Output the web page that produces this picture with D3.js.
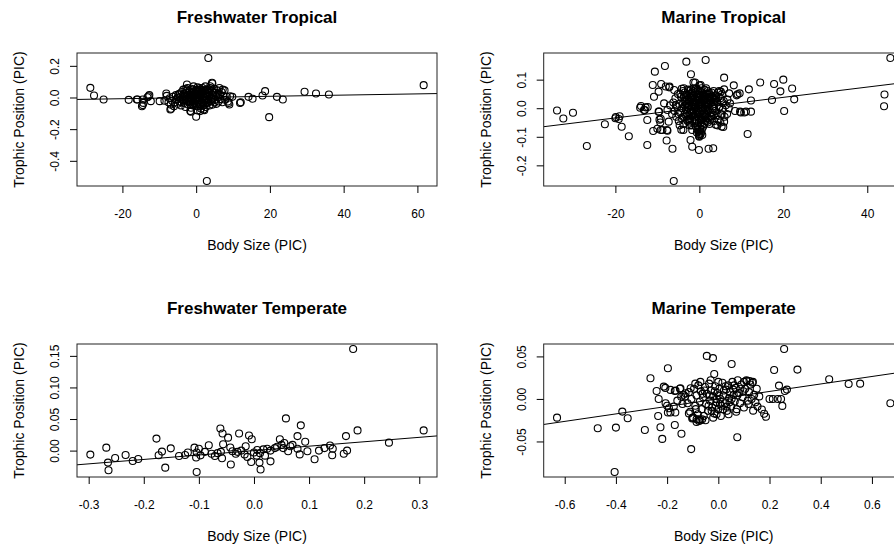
<!DOCTYPE html>
<html>
<head>
<meta charset="utf-8">
<script src="https://cdn.jsdelivr.net/npm/d3@7"></script>
<style>
body { margin: 0; background: #fff; }
</style>
</head>
<body>
<script>
var width = 894, height = 550;

var titles = ["Freshwater Tropical", "Marine Tropical", "Freshwater Temperate", "Marine Temperate"];
var xLabel = "Body Size (PIC)";
var yLabel = "Trophic Position (PIC)";

var xTickValues = [[-20, 0, 20, 40, 60], [-20, 0, 20, 40], [-0.3, -0.2, -0.1, 0, 0.1, 0.2, 0.3], [-0.6, -0.4, -0.2, 0, 0.2, 0.4, 0.6]];
var xTickLabels = [["-20", "0", "20", "40", "60"], ["-20", "0", "20", "40"], ["-0.3", "-0.2", "-0.1", "0.0", "0.1", "0.2", "0.3"], ["-0.6", "-0.4", "-0.2", "0.0", "0.2", "0.4", "0.6"]];
var yTickValues = [[0.2, 0, -0.2, -0.4], [0.1, 0, -0.1, -0.2], [0, 0.05, 0.10, 0.15], [-0.05, 0, 0.05]];
var yTickLabels = [["0.2", "0.0", "-0.2", "-0.4"], ["0.1", "0.0", "-0.1", "-0.2"], ["0.00", "0.05", "0.10", "0.15"], ["-0.05", "0.00", "0.05"]];

// fitted lines (slope, intercept) per panel
var slopes = [0.00038, 0.0018, 0.07, 0.044];
var intercepts = [0, 0.002, 0, 0];

var freshTropical = [
[-28.7,0.061],[-27.7,0.013],[-25.1,-0.013],[-18.3,-0.015],[-16.1,-0.013],[-15.9,-0.013],[-14.7,-0.055],[-14.5,-0.048],[-14.3,-0.034],
[-14.5,-0.013],[-13.2,0.002],[-12.9,0.008],[-12.7,0.015],[-12.3,-0.023],[-9.9,-0.023],[-8.1,0.025],[-6.8,-0.071],[-7.0,-0.076],
[-2.5,0.082],[-1.4,-0.09],[-1.6,-0.086],[0.0,-0.122],[0.4,-0.082],[1.1,-0.086],[2.0,-0.076],[2.2,-0.08],[3.3,0.25],[2.9,-0.528],
[4.4,0.088],[4.3,0.093],[3.8,0.071],[6.3,0.06],[7.2,0.05],[9.0,-0.044],[9.2,0.008],[8.8,-0.034],[9.8,0.004],[11.9,-0.034],[12.1,-0.03],
[14.2,0.004],[15.3,-0.008],[18.0,0.013],[18.7,0.04],[19.8,-0.124],[21.9,0.004],[23.5,-0.013],[29.4,0.036],[32.5,0.025],[36.0,0.019],[61.7,0.078],
[-8.6,-0.02],[-8.0,0.01],[-7.5,-0.03],[-7.2,-0.005],[-6.9,-0.045],[-6.5,-0.02],[-6.3,0.005],[-6.0,-0.055],[-5.8,-0.03],[-5.5,0.015],
[-5.3,-0.01],[-5.0,-0.04],[-4.8,0.02],[-4.6,-0.025],[-4.3,0.005],[-4.1,-0.05],[-3.9,0.035],[-3.7,-0.015],[-3.5,0.05],[-3.3,-0.035],
[-3.1,0.01],[-2.9,-0.06],[-2.7,0.03],[-2.5,-0.02],[-2.3,0.06],[-2.2,-0.045],[-2.0,0.0],[-1.9,0.04],[-1.7,-0.03],[-1.6,0.02],
[-1.4,-0.065],[-1.3,0.055],[-1.1,-0.01],[-1.0,0.03],[-0.8,-0.05],[-0.7,0.07],[-0.5,0.01],[-0.4,-0.035],[-0.2,0.045],[-0.1,-0.02],
[0.1,0.02],[0.2,-0.055],[0.4,0.065],[0.5,0.0],[0.7,-0.04],[0.8,0.035],[1.0,-0.015],[1.1,0.05],[1.3,-0.07],[1.4,0.015],
[1.6,-0.03],[1.7,0.06],[1.9,0.005],[2.0,-0.05],[2.2,0.04],[2.3,-0.02],[2.5,0.07],[2.6,-0.06],[2.8,0.02],[3.0,-0.035],
[3.1,0.045],[3.3,-0.01],[3.5,0.03],[3.6,-0.05],[3.8,0.06],[4.0,0.0],[4.1,-0.025],[4.3,0.04],[4.5,-0.045],[4.7,0.015],
[4.9,0.055],[5.1,-0.015],[5.3,0.03],[5.5,-0.04],[5.7,0.045],[5.9,0.0],[6.1,-0.025],[6.4,0.02],[6.6,-0.01],[6.9,0.035],
[7.1,-0.03],[7.4,0.01],[7.7,0.045],[7.9,-0.015],[8.3,0.005],[8.6,-0.025],
[-1.5,0.0],[-0.9,0.015],[-0.3,-0.005],[0.3,0.025],[0.9,0.0],[1.5,0.035],[-2.4,0.015],[2.4,-0.005],[-0.6,-0.025],[0.6,0.045],
[-1.2,0.035],[1.2,-0.04],[0.0,0.0],[-3.4,0.02],[3.4,0.01],[-2.8,-0.01],[2.9,-0.015],
[-2.6,0.045],[-2.1,-0.025],[-1.8,0.015],[-1.5,-0.045],[-1.0,0.05],[-0.7,-0.015],[-0.4,0.025],[-0.1,-0.05],[0.2,0.05],[0.5,-0.025],
[0.8,0.015],[1.1,-0.055],[1.4,0.045],[1.7,-0.01],[2.0,0.025],[2.3,-0.045],[2.6,0.05],[2.9,0.0],[3.2,-0.03],[3.5,0.045],
[-3.2,-0.02],[-2.9,0.055],[-3.6,0.0],[-4.0,-0.03],[-4.4,0.025],[4.2,-0.01],[4.6,0.03],[5.0,-0.03],[5.4,0.01],[-0.2,0.015],
[0.3,-0.01],[-1.3,-0.02],[1.3,0.03],[-0.9,-0.04],[0.9,0.06],[-2.3,-0.005],[2.1,-0.03],[0.0,0.035],[-5.0,0.0],[6.0,0.015]
];

var marineTropical = [
[-33.9,-0.008],[-32.4,-0.036],[-30.1,-0.016],[-26.8,-0.132],[-22.5,-0.056],[-20.0,-0.035],[-19.9,-0.031],[-19.2,-0.038],[-19.0,-0.028],
[-18.5,-0.065],[-16.8,-0.098],[-14.1,0.002],[-13.9,0.008],[-13.2,-0.006],[-13.0,-0.006],[-12.8,0.003],[-12.4,-0.041],[-12.4,-0.129],
[-12.3,0.004],[-11.1,0.081],[-10.6,0.128],[-11.0,-0.08],[-10.8,0.04],[-10.0,-0.072],[-9.7,0.058],[-9.7,-0.012],[-9.6,-0.012],
[-9.2,-0.037],[-9.2,-0.076],[-9.1,0.085],[-9.5,-0.04],[-9.3,-0.05],[-8.8,-0.076],[-8.4,0.017],[-8.2,0.148],[-8.0,0.076],
[-7.8,-0.113],[-7.7,-0.076],[-7.6,-0.079],[-7.6,-0.006],[-7.3,-0.047],[-7.2,0.073],[-7.1,0.076],[-6.4,-0.142],[-6.1,-0.255],
[-6.0,0.064],[-4.3,-0.075],[-4.2,0.068],[-3.8,-0.076],[-3.7,0.07],[-3.1,0.163],[-2.0,0.119],[-2.1,-0.111],[-1.7,-0.135],
[-1.7,-0.076],[-1.4,0.09],[-1.0,0.09],[-0.4,-0.075],[-0.1,-0.146],[-0.1,-0.097],[0.0,0.08],[0.3,0.081],[0.1,-0.095],[0.3,-0.09],
[1.5,0.169],[0.7,-0.094],[2.2,-0.142],[3.3,-0.14],[3.9,-0.058],[4.3,-0.06],[4.7,0.06],[4.7,0.003],[5.1,0.058],[5.3,-0.023],
[5.3,-0.064],[5.7,-0.066],[5.9,-0.047],[5.9,0.107],[5.9,0.066],[6.7,0.03],[7.1,0.052],[7.3,0.017],[8.2,0.08],[8.9,0.045],
[9.1,0.049],[9.6,0.052],[8.5,-0.01],[9.7,-0.012],[9.9,-0.015],[10.7,-0.015],[11.1,-0.012],[11.5,-0.09],[11.8,0.066],
[12.3,0.027],[12.3,-0.012],[14.5,0.09],[17.3,0.029],[17.8,0.085],[19.3,0.059],[20.0,0.1],[20.2,-0.01],[22.1,0.069],
[22.6,0.031],[44.0,0.007],[44.1,0.048],[45.5,0.176],
[-6.2,0.02],[-5.9,-0.01],[-5.7,0.035],[-5.5,-0.03],[-5.3,0.005],[-5.1,0.05],[-4.9,-0.045],[-4.8,0.015],[-4.6,-0.015],[-4.4,0.04],
[-4.2,-0.035],[-4.1,0.0],[-3.9,0.06],[-3.8,-0.055],[-3.6,0.025],[-3.5,-0.02],[-3.3,0.045],[-3.2,-0.005],[-3.0,-0.04],[-2.9,0.03],
[-2.7,0.065],[-2.6,-0.025],[-2.4,0.01],[-2.3,-0.06],[-2.1,0.05],[-2.0,-0.01],[-1.8,0.035],[-1.7,-0.045],[-1.5,0.015],[-1.4,0.07],
[-1.2,-0.03],[-1.1,0.0],[-0.9,0.055],[-0.8,-0.065],[-0.6,0.025],[-0.5,-0.015],[-0.3,0.04],[-0.2,-0.05],[0.0,0.01],[0.1,-0.08],
[0.2,0.06],[0.3,-0.03],[0.5,0.03],[0.6,-0.06],[0.8,0.0],[0.9,0.045],[1.1,-0.02],[1.2,0.065],[1.4,-0.045],[1.5,0.02],
[1.7,-0.01],[1.8,0.05],[2.0,-0.035],[2.1,0.01],[2.3,0.04],[2.4,-0.055],[2.6,0.025],[2.7,-0.015],[2.9,0.055],[3.0,-0.03],
[3.2,0.005],[3.3,0.035],[3.5,-0.045],[3.6,0.015],[3.8,-0.01],[3.9,0.045],[4.1,-0.025],[4.3,0.02],[4.4,0.055],[4.6,-0.04],
[4.8,0.005],[5.0,0.035],[5.2,-0.02],[5.4,0.05],[5.6,-0.005],[5.8,0.025],[6.0,-0.03],[6.3,0.01],
[0.2,-0.07],[0.4,-0.085],[-0.1,-0.09],[0.6,-0.075],[-0.4,-0.06],[0.9,-0.065],[0.0,-0.1],[-0.6,-0.085],
[-2.5,0.03],[-1.9,0.005],[-1.3,0.045],[-0.7,-0.005],[-0.1,0.03],[0.4,0.0],[1.0,0.025],[1.6,-0.025],[2.2,0.0],[2.8,0.02],
[-2.2,-0.035],[-1.0,-0.04],[0.7,-0.04],[1.9,0.03],[3.1,-0.015],[-3.4,0.01],[-0.4,0.065],[0.5,0.07],[1.3,0.0],[-1.6,-0.015],
[2.5,0.035],[-2.8,-0.045],[3.4,0.06],[-3.7,0.04],[0.0,-0.035],[0.3,0.045],[-0.2,0.0],[1.1,0.04],[-1.1,0.02],[2.0,0.06],[-2.0,0.065],
[-3.0,0.015],[-2.6,0.045],[-2.2,-0.015],[-1.8,0.055],[-1.4,-0.025],[-1.0,0.035],[-0.6,-0.045],[-0.2,0.02],[0.2,-0.015],[0.6,0.055],
[1.0,-0.035],[1.4,0.035],[1.8,-0.045],[2.2,0.05],[2.6,-0.04],[3.0,0.04],[3.4,-0.025],[3.8,0.03],[-3.8,-0.03],[-4.5,0.05],
[-0.9,-0.02],[-0.5,0.05],[0.1,0.04],[0.6,0.015],[1.2,-0.055],[-1.5,0.06],[-2.4,-0.05],[1.6,0.07],[2.4,0.015],[-0.3,-0.03],
[0.9,-0.005],[-1.2,0.01],[-2.9,-0.02],[3.5,0.0],[4.0,0.035],[-4.0,0.015],[0.4,-0.05],[-0.8,0.07],[1.9,-0.02],[-1.9,-0.06],
[4.6,0.04],[5.0,-0.05],[-5.0,-0.02],[-5.6,0.01],[-6.5,-0.02],[6.6,-0.02],[7.0,0.0],[-7.0,0.01],[5.5,0.02],[-4.7,-0.06],
[-3.3,0.028],[-2.7,0.002],[-2.3,0.022],[-1.7,0.042],[-1.3,-0.008],[-0.8,0.018],[-0.4,-0.018],[0.0,0.048],[0.4,0.022],[0.8,-0.022],
[1.2,0.012],[1.6,0.048],[2.0,-0.008],[2.4,0.028],[2.8,-0.028],[3.2,0.022],[-3.1,-0.028],[-2.5,-0.038],[-1.6,0.028],[-0.9,0.004],
[-0.1,-0.012],[0.7,0.035],[1.5,0.008],[2.3,0.055],[3.6,0.03],[-3.5,0.055],[-2.0,0.038],[-0.6,0.04],[0.3,0.012],[1.0,0.05],
[1.8,0.018],[2.7,0.04],[-1.1,-0.05],[0.5,-0.04],[-2.6,0.06],[1.3,-0.03],[-0.3,0.06],[2.0,-0.05],[-1.4,0.022],[0.9,0.03]
];

var freshTemperate = [
[-0.297,-0.0063],[-0.268,0.0047],[-0.265,-0.019],[-0.264,-0.031],[-0.252,-0.0116],[-0.233,-0.0069],[-0.22,-0.0164],[-0.21,-0.0132],
[-0.177,0.019],[-0.173,-0.0074],[-0.167,-0.0016],[-0.161,-0.027],[-0.151,0.0036],[-0.136,-0.0085],[-0.125,-0.007],[-0.12,-0.003],
[-0.108,0.0047],[-0.105,-0.011],[-0.104,-0.034],[-0.104,-0.003],[-0.1,0.003],[-0.097,-0.0075],[-0.089,-0.002],[-0.082,0.0084],
[-0.077,-0.005],[-0.071,-0.0085],[-0.061,0.035],[-0.06,-0.002],[-0.057,0.027],[-0.056,0.01],[-0.058,-0.012],[-0.047,0.0205],
[-0.042,-0.022],[-0.043,0.005],[-0.039,-0.001],[-0.033,-0.005],[-0.027,0.027],[-0.023,0.0],[-0.017,-0.006],[-0.015,0.007],
[-0.009,0.024],[-0.004,0.018],[-0.005,-0.018],[0.0,-0.003],[0.006,0.001],[0.011,-0.004],[0.01,-0.019],[0.012,-0.03],
[0.017,0.002],[0.02,-0.008],[0.03,-0.017],[0.03,0.0],[0.038,0.004],[0.047,0.018],[0.05,0.009],[0.053,0.004],[0.058,0.051],
[0.062,-0.001],[0.07,0.009],[0.079,0.023],[0.079,0.003],[0.083,-0.006],[0.085,0.04],[0.093,0.014],[0.097,-0.001],[0.11,-0.0137],
[0.118,0.0],[0.128,0.004],[0.138,0.008],[0.142,-0.0074],[0.143,0.003],[0.163,-0.005],[0.167,0.023],[0.169,0.0],[0.18,0.161],
[0.188,0.032],[0.245,0.0126],[0.308,0.032],
[-0.03,-0.002],[0.024,0.003],[0.042,0.006],[0.066,0.007],[0.005,-0.008],[-0.012,-0.01],[0.055,0.012],[-0.066,-0.004]
];

var marineTemperate = [
[-0.63,-0.022],[-0.471,-0.0345],[-0.4,-0.0337],[-0.405,-0.086],[-0.375,-0.0149],[-0.354,-0.0227],[-0.287,-0.0365],[-0.265,0.0243],
[-0.241,0.0094],[-0.235,-0.02],[-0.233,0.0],[-0.226,-0.0333],[-0.219,-0.047],[-0.213,0.0145],[-0.207,0.013],[-0.197,0.036],
[-0.2,-0.008],[-0.197,-0.016],[-0.17,-0.0306],[-0.17,0.0094],[-0.168,-0.016],[-0.16,-0.002],[-0.15,0.012],[-0.144,-0.041],
[-0.136,0.005],[-0.106,-0.059],[-0.115,-0.017],[-0.102,-0.023],[-0.063,-0.024],[-0.075,-0.024],[-0.045,0.0506],[-0.021,0.048],
[-0.016,0.0294],[-0.007,-0.018],[0.052,0.041],[0.074,-0.045],[0.136,-0.0138],[0.153,-0.009],[0.17,-0.0125],[0.179,-0.0175],
[0.186,-0.021],[0.218,0.034],[0.2,0.0],[0.213,0.0],[0.232,0.0],[0.245,0.0],[0.237,0.0157],[0.25,-0.0082],[0.257,0.0588],
[0.26,0.0094],[0.268,0.011],[0.309,0.0345],[0.433,0.0232],[0.509,0.0176],[0.554,0.018],[0.672,-0.005],
[-0.187,0.0106],[-0.167,0.0098],[-0.148,0.0126],[-0.145,0.0027],[-0.128,0.0067],[-0.108,0.0126],[-0.206,-0.005],[-0.193,-0.011],
[-0.174,-0.009],[-0.187,-0.016],[-0.098,-0.022],[-0.085,-0.027],[-0.07,-0.025],[0.1,0.02],[0.11,0.022],[0.122,0.021],[0.133,0.019],
[-0.12,-0.005],[-0.115,0.008],[-0.11,-0.015],[-0.105,0.0],[-0.1,-0.022],[-0.095,0.012],[-0.09,-0.008],[-0.085,0.004],[-0.08,-0.018],
[-0.078,0.016],[-0.072,-0.003],[-0.068,0.009],[-0.065,-0.012],[-0.06,0.002],[-0.057,-0.02],[-0.052,0.014],[-0.048,-0.006],
[-0.045,0.006],[-0.04,-0.014],[-0.036,0.018],[-0.032,-0.002],[-0.028,0.01],[-0.024,-0.01],[-0.02,0.003],[-0.016,-0.017],
[-0.012,0.015],[-0.008,-0.004],[-0.004,0.007],[0.0,-0.012],[0.004,0.012],[0.008,0.0],[0.012,-0.008],[0.016,0.019],[0.02,0.004],
[0.025,-0.005],[0.03,0.011],[0.034,-0.014],[0.038,0.016],[0.042,0.001],[0.046,0.008],[0.05,-0.009],[0.055,0.02],[0.06,0.005],
[0.064,-0.003],[0.068,0.013],[0.072,-0.012],[0.076,0.022],[0.08,0.007],[0.085,-0.005],[0.09,0.017],[0.095,0.002],[0.1,-0.01],
[0.105,0.012],[0.11,0.021],[0.115,-0.002],[0.12,0.008],[0.125,0.017],[0.13,0.0],[0.135,0.02],[0.14,0.005],[0.145,-0.004],
[0.15,0.012],[0.16,0.003],[-0.13,0.003],[-0.14,-0.006],[-0.09,0.018],[-0.07,0.02],[-0.03,0.022],[0.0,0.02],[-0.05,-0.025],
[-0.02,-0.022],[0.01,-0.02],[0.04,-0.018],[0.07,-0.015],[-0.075,-0.026],[-0.085,-0.024],
[-0.062,0.006],[-0.038,-0.008],[-0.014,0.009],[0.006,-0.006],[0.028,0.015],[0.052,0.0],[0.074,0.004],[0.098,0.009],[-0.088,-0.012],
[-0.034,0.004],[0.018,-0.012],[0.062,0.016],[0.118,-0.006],[-0.006,0.0],[0.044,-0.004],
[-0.054,0.01],[-0.026,-0.014],[0.002,0.004],[0.032,-0.009],[0.058,0.011],[0.086,0.012],[-0.01,-0.008],[0.022,0.01]
];

var panelData = [freshTropical, marineTropical, freshTemperate, marineTemperate];

// layout
var plotLefts = [77, 543.7], plotTops = [53, 344];
var plotW = 360, plotH = 133;
var font = "'Liberation Sans', Arial, Helvetica, sans-serif";

var svg = d3.select("body").append("svg")
	.attr("width", width)
	.attr("height", height);

// R style range: data extent padded by 4% each side
function padExtent(vals){
	var e = d3.extent(vals);
	var p = (e[1] - e[0]) * 0.04;
	return [e[0] - p, e[1] + p];
}

function drawPanel(i){
	var left = plotLefts[i % 2], top = plotTops[Math.floor(i / 2)];
	var pts = panelData[i];

	var x = d3.scaleLinear()
		.domain(padExtent(pts.map(function(d){ return d[0]; })))
		.range([left, left + plotW]);
	var y = d3.scaleLinear()
		.domain(padExtent(pts.map(function(d){ return d[1]; })))
		.range([top + plotH, top]);

	var g = svg.append("g");

	g.append("clipPath")
		.attr("id", "clip" + i)
		.append("rect")
		.attr("x", left).attr("y", top)
		.attr("width", plotW).attr("height", plotH);

	// fitted line
	var xd = x.domain();
	g.append("line")
		.attr("clip-path", "url(#clip" + i + ")")
		.attr("x1", x(xd[0])).attr("y1", y(intercepts[i] + slopes[i] * xd[0]))
		.attr("x2", x(xd[1])).attr("y2", y(intercepts[i] + slopes[i] * xd[1]))
		.attr("stroke", "#000")
		.attr("stroke-width", 1);

	g.selectAll("circle")
		.data(pts)
		.enter()
		.append("circle")
		.attr("cx", function(d){ return x(d[0]); })
		.attr("cy", function(d){ return y(d[1]); })
		.attr("r", 3.5)
		.attr("fill", "none")
		.attr("stroke", "#000")
		.attr("stroke-width", 1.1);

	g.append("rect")
		.attr("x", left).attr("y", top)
		.attr("width", plotW).attr("height", plotH)
		.attr("fill", "none")
		.attr("stroke", "#222")
		.attr("stroke-width", 1);

	var xAxis = d3.axisBottom(x)
		.tickValues(xTickValues[i])
		.tickFormat(function(d, k){ return xTickLabels[i][k]; })
		.tickSize(7)
		.tickPadding(16);
	var gx = g.append("g")
		.attr("transform", "translate(0," + (top + plotH) + ")")
		.call(xAxis);
	gx.select(".domain").remove();
	gx.selectAll("text")
		.attr("font-family", font)
		.attr("font-size", 12)
		.attr("fill", "#000");

	var yAxis = d3.axisLeft(y)
		.tickValues(yTickValues[i])
		.tickFormat(function(d, k){ return yTickLabels[i][k]; })
		.tickSize(7);
	var gy = g.append("g")
		.attr("transform", "translate(" + left + ",0)")
		.call(yAxis);
	gy.select(".domain").remove();
	gy.selectAll("text")
		.attr("x", null).attr("dy", null)
		.attr("transform", "translate(-18,0) rotate(-90)")
		.attr("text-anchor", "middle")
		.attr("font-family", font)
		.attr("font-size", 12)
		.attr("fill", "#000");

	g.append("text")
		.attr("x", left + plotW / 2)
		.attr("y", top - 30)
		.attr("text-anchor", "middle")
		.attr("font-family", font)
		.attr("font-weight", "bold")
		.attr("font-size", 17)
		.text(titles[i]);

	g.append("text")
		.attr("x", left + plotW / 2)
		.attr("y", top + plotH + 64)
		.attr("text-anchor", "middle")
		.attr("font-family", font)
		.attr("font-size", 14)
		.text(xLabel);

	g.append("text")
		.attr("transform", "translate(" + (left - 53) + "," + (top + plotH / 2) + ") rotate(-90)")
		.attr("text-anchor", "middle")
		.attr("font-family", font)
		.attr("font-size", 14)
		.text(yLabel);
}

for (var i = 0; i < 4; i++) drawPanel(i);
</script>
</body>
</html>
